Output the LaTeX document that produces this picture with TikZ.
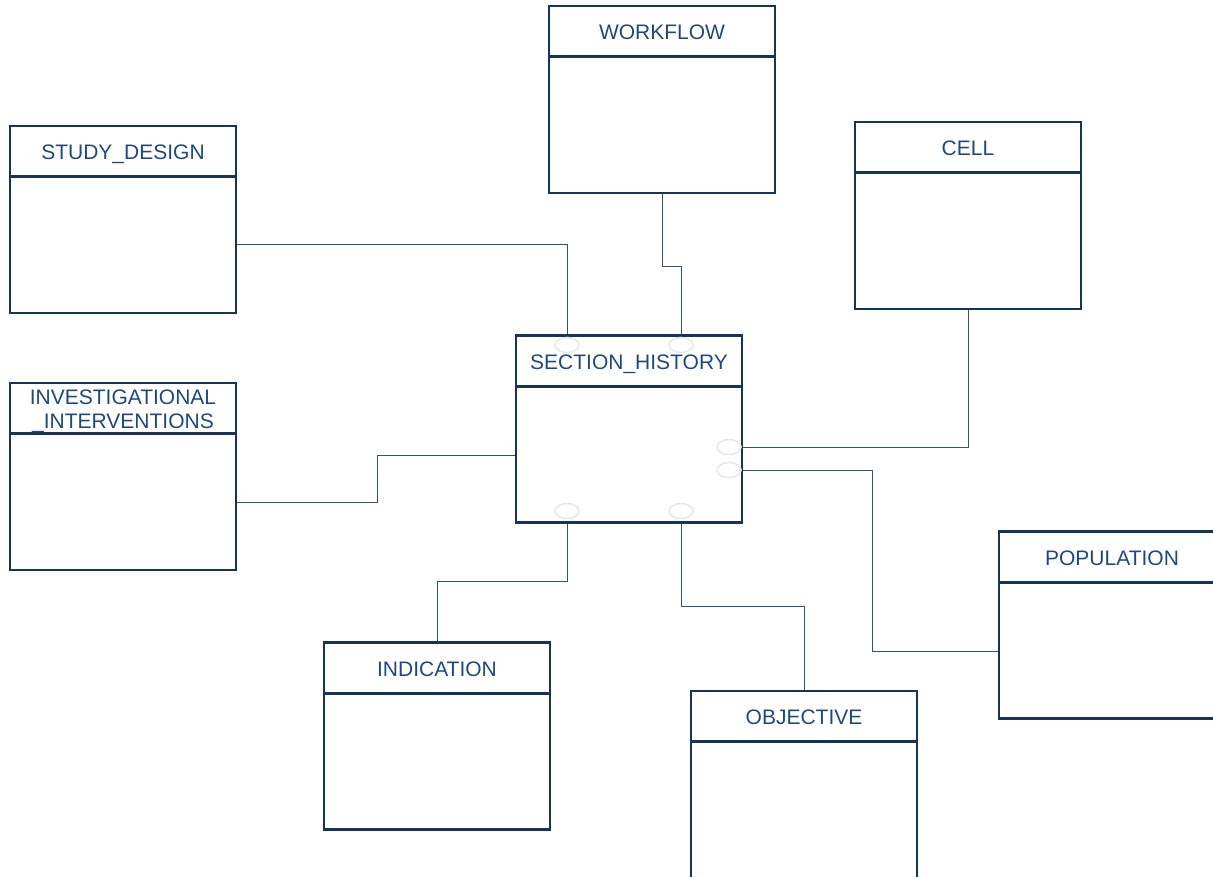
\documentclass[tikz,border=0pt]{standalone}
\usepackage{fontspec}
\setmainfont{Liberation Sans}
\usepackage{xcolor}
\definecolor{boxc}{RGB}{22,52,88}
\definecolor{textc}{RGB}{31,73,125}
\definecolor{linkc}{RGB}{42,82,130}
\definecolor{portc}{RGB}{232,232,232}

\begin{document}
\begin{tikzpicture}[x=1pt,y=-1pt,
  entity/.style={draw=boxc,line width=2.6pt,minimum width=226pt,minimum height=187pt,inner sep=0pt},
  title/.style={text=textc,font=\fontsize{21}{24.5}\selectfont,align=center,inner sep=0pt,anchor=base},
  link/.style={draw=linkc,line width=1pt},
  port/.style={draw=portc,line width=1.6pt}]
\useasboundingbox (0,0) rectangle (1213,877);
\clip (0,0) rectangle (1213,877);
% tables
\foreach \n/\x/\y/\b/\l in {flow/662/99.5/35/{WORKFLOW},study/123/219.5/35/{STUDY\_DESIGN},
    cell/968/215.5/35/{CELL},hist/629/429/35/{SECTION\_HISTORY},
    inv/123/476.5/47/{INVESTIGATIONAL\\\_INTERVENTIONS},ind/437/736/35/{INDICATION},
    obj/804/784.5/35/{OBJECTIVE},pop/1112/625/35/{POPULATION}}
  {\node[entity] (\n) at (\x,\y) {};
   \draw[boxc,line width=2.6pt] ([yshift=-52pt]\n.north west) -- ([yshift=-52pt]\n.north east);
   \node[title] (\n-t) at ([yshift=-\b pt]\n.north) {\l};}
% ports on SECTION_HISTORY
\foreach \px/\py in {567/345,681/345,729/447,729/470,567/511,681/511}
  {\draw[port] (\px,\py) ellipse (12 and 7.5);}
% links
\draw[link] ([yshift=-25.5pt]study.east) -| ([xshift=-62pt]hist.north);
\draw[link] (flow.south) -- ++(0,72) -| ([xshift=52pt]hist.north);
\draw[link] (cell.south) |- ([yshift=-18pt]hist.east);
\draw[link] ([yshift=-41pt]hist.east) -- ++(129,0) |- ([yshift=-26pt]pop.west);
\draw[link] ([yshift=-25.5pt]inv.east) -- ++(140,0) |- ([yshift=-26pt]hist.west);
\draw[link] ([xshift=-62pt]hist.south) -- ++(0,58) -| (ind.north);
\draw[link] ([xshift=52pt]hist.south) -- ++(0,83) -| (obj.north);
\end{tikzpicture}
\end{document}
